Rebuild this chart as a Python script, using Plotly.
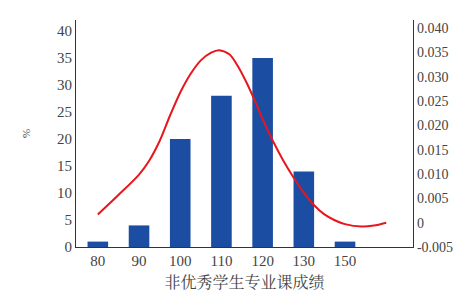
import plotly.graph_objects as go

categories = ["80", "90", "100", "110", "120", "130", "150"]
percent_values = [1, 4, 20, 28, 35, 14, 1]

# fitted curve, x in category-index units, y on right axis
curve_x = [0.0, 0.5, 1.0, 1.25, 1.5, 1.75, 2.0, 2.25, 2.5, 2.75, 2.95, 3.2, 3.4, 3.6, 3.8, 4.0,
           4.25, 4.5, 4.75, 5.0, 5.25, 5.5, 5.75, 6.0, 6.4, 6.7, 7.0]
curve_y = [0.0017, 0.0057, 0.0099, 0.0128, 0.0168, 0.0220, 0.0268, 0.0306, 0.0334, 0.0350, 0.0355,
           0.0346, 0.0322, 0.0290, 0.0253, 0.0213, 0.0168, 0.0128, 0.0093, 0.0062, 0.0036, 0.0017,
           0.0005, -0.0003, -0.0008, -0.0006, 0.0]

left_ticks = [0, 5, 10, 15, 20, 25, 30, 35, 40]
right_ticks = [-0.005, 0, 0.005, 0.010, 0.015, 0.020, 0.025, 0.030, 0.035, 0.040]
right_ticktext = ["-0.005", "0", "0.005", "0.010", "0.015", "0.020", "0.025", "0.030", "0.035", "0.040"]

x_idx = list(range(len(categories)))

fig = go.Figure()
fig.add_trace(go.Bar(x=x_idx, y=percent_values, width=0.5,
                     marker=dict(color="#1b4ea3", line=dict(width=0)),
                     showlegend=False))
fig.add_trace(go.Scatter(x=curve_x, y=curve_y, yaxis="y2", mode="lines",
                         line=dict(color="#e8161c", width=2, shape="spline", smoothing=0.8),
                         showlegend=False))

serif = "Liberation Serif, Noto Sans CJK SC, serif"
fig.update_layout(
    width=465, height=292,
    margin=dict(l=68, r=60, t=12, b=53),
    paper_bgcolor="white", plot_bgcolor="white",
    font=dict(family=serif, size=15, color="#444"),
    xaxis=dict(range=[-0.53, 7.65], tickvals=x_idx, ticktext=categories,
               showgrid=False, zeroline=False, showline=True,
               linecolor="#333", linewidth=1.2, ticks="",
               tickfont=dict(size=15),
               title=dict(text="非优秀学生专业课成绩", standoff=8,
                          font=dict(family="Noto Serif CJK SC, Noto Sans CJK SC, serif", size=16, color="#444"))),
    yaxis=dict(range=[0, 42.05], tickvals=left_ticks, showgrid=False, zeroline=False,
               showline=True, linecolor="#333", linewidth=1.2, ticks="",
               tickfont=dict(size=15),
               title=dict(text="%", standoff=24, font=dict(size=11))),
    yaxis2=dict(range=[-0.005, 0.0417], overlaying="y", side="right",
                tickvals=right_ticks, ticktext=right_ticktext,
                tickfont=dict(size=14),
                showgrid=False, zeroline=False, showline=True,
                linecolor="#333", linewidth=1.2, ticks=""),
)

fig.write_html("out.html")
